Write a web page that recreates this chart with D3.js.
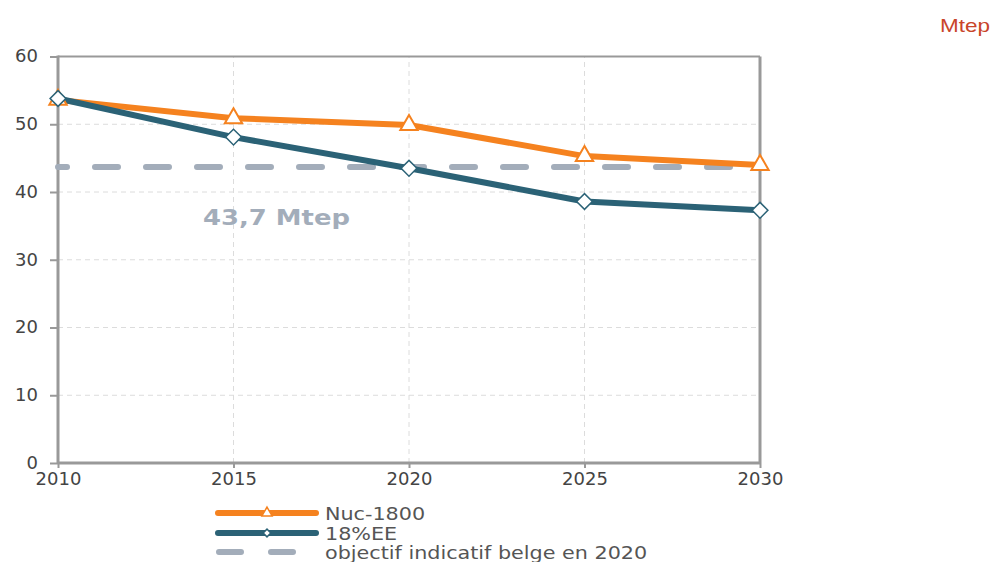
<!DOCTYPE html>
<html><head><meta charset="utf-8">
<script src="https://cdn.jsdelivr.net/npm/d3@7"></script>
<style>body{margin:0;background:#fff}svg{display:block}</style>
</head><body>
<svg id="c" width="999" height="562"></svg>
<script>
const years = [2010, 2015, 2020, 2025, 2030];
const nuc1800 = [53.6, 50.9, 49.9, 45.3, 44.0];
const ee18 = [53.8, 48.1, 43.5, 38.6, 37.3];
const objective = 43.7;
const yTicks = [0, 10, 20, 30, 40, 50, 60];
const seriesNames = ["Nuc-1800", "18%EE", "objectif indicatif belge en 2020"];
const objectiveLabel = "43,7 Mtep";
const unitLabel = "Mtep";

const svg = d3.select("#c");
const x = d3.scaleLinear().domain([2010, 2030]).range([58, 760]);
const y = d3.scaleLinear().domain([0, 60]).range([463, 56.5]);
const font = "'DejaVu Sans', Verdana, sans-serif";
const orange = "#f5821f", teal = "#2b6276", grayd = "#a3adba";

function stretch(sel, k) {
  sel.each(function() {
    const w = this.getComputedTextLength();
    d3.select(this).attr("textLength", w * k).attr("lengthAdjust", "spacingAndGlyphs");
  });
}

// grid
svg.append("g").selectAll("line").data(yTicks.slice(1)).join("line")
  .attr("x1", x(2010)).attr("x2", x(2030)).attr("y1", d => y(d)).attr("y2", d => y(d))
  .attr("stroke", "#dcdcdc").attr("stroke-width", 1).attr("stroke-dasharray", "5,4");
svg.append("g").selectAll("line").data(years.slice(1, -1)).join("line")
  .attr("x1", d => x(d)).attr("x2", d => x(d)).attr("y1", y(0)).attr("y2", y(60))
  .attr("stroke", "#dcdcdc").attr("stroke-width", 1).attr("stroke-dasharray", "5,4");

// frame top/right
svg.append("line").attr("x1", x(2010)).attr("x2", x(2030)).attr("y1", y(60)).attr("y2", y(60))
  .attr("stroke", "#999").attr("stroke-width", 2);
svg.append("line").attr("x1", x(2030)).attr("x2", x(2030)).attr("y1", y(60)).attr("y2", y(0))
  .attr("stroke", "#999").attr("stroke-width", 3);

// axes
const yAxis = svg.append("g").attr("transform", `translate(${x(2010)},0)`)
  .call(d3.axisLeft(y).tickValues(yTicks).tickSize(8).tickPadding(12));
const xAxis = svg.append("g").attr("transform", `translate(0,${y(0)})`)
  .call(d3.axisBottom(x).tickValues(years).tickFormat(d3.format("d")).tickSize(5).tickPadding(4));
[yAxis, xAxis].forEach(g => {
  g.select(".domain").attr("stroke", "#999").attr("stroke-width", 3);
  g.selectAll(".tick line").attr("stroke", "#999").attr("stroke-width", 2);
  g.selectAll("text").attr("fill", "#444").style("font-family", font).style("font-size", "18px");
});
yAxis.select(".domain").attr("d", `M0,${y(60)-1}V${y(0)}`);
xAxis.select(".domain").attr("d", `M${x(2010)},0H${x(2030)}`);
yAxis.selectAll(".tick text").attr("dy", "0.3em");

// objective dashed line
svg.append("line").attr("x1", x(2010)).attr("x2", x(2030)).attr("y1", y(objective)).attr("y2", y(objective))
  .attr("stroke", grayd).attr("stroke-width", 6).attr("stroke-linecap", "round")
  .attr("stroke-dasharray", "23,28").attr("stroke-dashoffset", 14);
svg.append("text").attr("x", 203).attr("y", 225).text(objectiveLabel)
  .attr("fill", grayd).style("font-family", font).style("font-size", "21px").style("font-weight", "bold")
  .attr("textLength", 147).attr("lengthAdjust", "spacingAndGlyphs");

// lines
const line = d3.line().x((d, i) => x(years[i])).y(d => y(d));
svg.append("path").datum(nuc1800).attr("d", line).attr("fill", "none")
  .attr("stroke", orange).attr("stroke-width", 6).attr("stroke-linejoin", "round");
svg.append("path").datum(ee18).attr("d", line).attr("fill", "none")
  .attr("stroke", teal).attr("stroke-width", 6).attr("stroke-linejoin", "round");

const tri = d3.symbol().type(d3.symbolTriangle).size(130);
const dia = d3.symbol().type(d3.symbolSquare).size(125);
svg.append("g").selectAll("path").data(nuc1800).join("path")
  .attr("d", tri).attr("transform", (d, i) => `translate(${x(years[i])},${y(d)})`)
  .attr("fill", "#fff").attr("stroke", orange).attr("stroke-width", 2);
svg.append("g").selectAll("path").data(ee18).join("path")
  .attr("d", dia).attr("transform", (d, i) => `translate(${x(years[i])},${y(d)}) rotate(45)`)
  .attr("fill", "#fff").attr("stroke", teal).attr("stroke-width", 1.5);

// legend
const lg = svg.append("g");
const ly = [513, 533, 552];
lg.append("line").attr("x1", 218).attr("x2", 316).attr("y1", ly[0]).attr("y2", ly[0])
  .attr("stroke", orange).attr("stroke-width", 6).attr("stroke-linecap", "round");
lg.append("path").attr("d", d3.symbol().type(d3.symbolTriangle).size(45))
  .attr("transform", `translate(267,${ly[0]})`).attr("fill", "#fff").attr("stroke", orange).attr("stroke-width", 1.5);
lg.append("line").attr("x1", 218).attr("x2", 316).attr("y1", ly[1]).attr("y2", ly[1])
  .attr("stroke", teal).attr("stroke-width", 6).attr("stroke-linecap", "round");
lg.append("path").attr("d", d3.symbol().type(d3.symbolSquare).size(30))
  .attr("transform", `translate(267,${ly[1]}) rotate(45)`).attr("fill", "#fff").attr("stroke", teal).attr("stroke-width", 1.5);
lg.append("line").attr("x1", 219).attr("x2", 295).attr("y1", ly[2]).attr("y2", ly[2])
  .attr("stroke", grayd).attr("stroke-width", 6).attr("stroke-linecap", "round").attr("stroke-dasharray", "22,30");
const lt = lg.selectAll("text").data(seriesNames).join("text")
  .attr("x", 325).attr("y", (d, i) => ly[i] + 7).text(d => d)
  .attr("fill", "#555").style("font-family", font).style("font-size", "18px");
stretch(lt, 1.15);

svg.append("text").attr("x", 990).attr("y", 32).attr("text-anchor", "end").text(unitLabel)
  .attr("fill", "#c9452a").style("font-family", "'Liberation Sans', Arial, sans-serif").style("font-size", "19px")
  .attr("textLength", 50).attr("lengthAdjust", "spacingAndGlyphs");
</script>
</body></html>
